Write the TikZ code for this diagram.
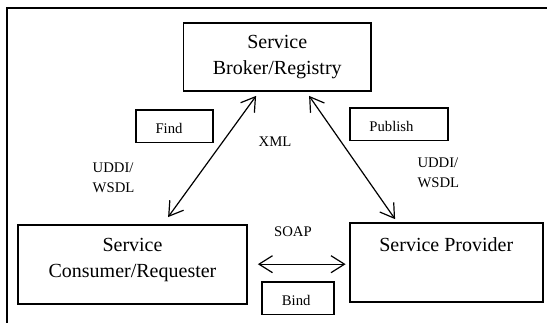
\documentclass[tikz,border=0pt]{standalone}
\usepackage{fontspec}
\setmainfont{Liberation Serif}
\usetikzlibrary{arrows.meta,calc}
\begin{document}
\begin{tikzpicture}[x=1pt,y=-1pt,
  bigbox/.style={draw, line width=1.8pt, inner sep=0pt, align=center,
    font=\fontsize{20}{26}\selectfont},
  tagbox/.style={draw, line width=1.6pt, inner sep=0pt},
  lbl/.style={inner sep=0pt, align=left, font=\fontsize{14.7}{20}\selectfont},
  barb/.tip={Straight Barb[length=13.5pt,width=17pt]},
  link/.style={line width=1.2pt, {barb}-{barb}}]

\useasboundingbox (0,0) rectangle (547,323);

% outer frame (top and left edges only)
\draw[line width=1.5pt] (7,323) -- (7,8) -- (547,8);

% main parties
\node[bigbox, minimum width=187.5pt, minimum height=68.6pt] (broker) at (277.25,57)
  {Service\\Broker/Registry};
\node[bigbox, minimum width=229pt, minimum height=79pt, text depth=12pt] (cons)
  at (132.5,264.2) {Service\\Consumer/Requester};
\node[bigbox, minimum width=192.6pt, text height=28.6pt, text depth=50.7pt] (prov)
  at (446.3,262.7) {Service Provider};

% operation tags
\node[tagbox, minimum width=77pt, minimum height=32.7pt] (find) at (174.5,126.35) {};
\node[lbl] (findtxt) at (169,128.3) {Find};
\node[tagbox, minimum width=98pt, minimum height=32.7pt] (pub) at (399,124.35) {};
\node[lbl] (pubtxt) at (391.5,126.7) {Publish};
\node[tagbox, minimum width=72pt, minimum height=32.3pt] (bind) at (298,298.2) {};
\node[lbl] (bindtxt) at (296.2,300) {Bind};

% protocol labels
\node[lbl] (xml) at (275,141.7) {XML};
\node[lbl] (soap) at (293,231.7) {SOAP};
\node[lbl, anchor=west] (uddil) at (92.5,178) {UDDI/\\WSDL};
\node[lbl, anchor=west] (uddir) at (417.3,173) {UDDI/\\WSDL};

% connectors
\coordinate (c1) at ($(cons.north west)+(151,-6.7)$);
\coordinate (b1) at ($(broker.south west)+(73.5,3.7)$);
\coordinate (b2) at ($(broker.south west)+(126.5,3.7)$);
\coordinate (p1) at ($(prov.north west)+(46,-3)$);
\coordinate (c2) at ($(cons.east)+(10,0)$);
\coordinate (p2) at ($(prov.west)+(-3.5,0)$);

\draw[link] (c1) -- (b1);
\draw[link] (b2) -- (p1);
\draw[link] (c2) -- (c2 -| p2);
\end{tikzpicture}
\end{document}
